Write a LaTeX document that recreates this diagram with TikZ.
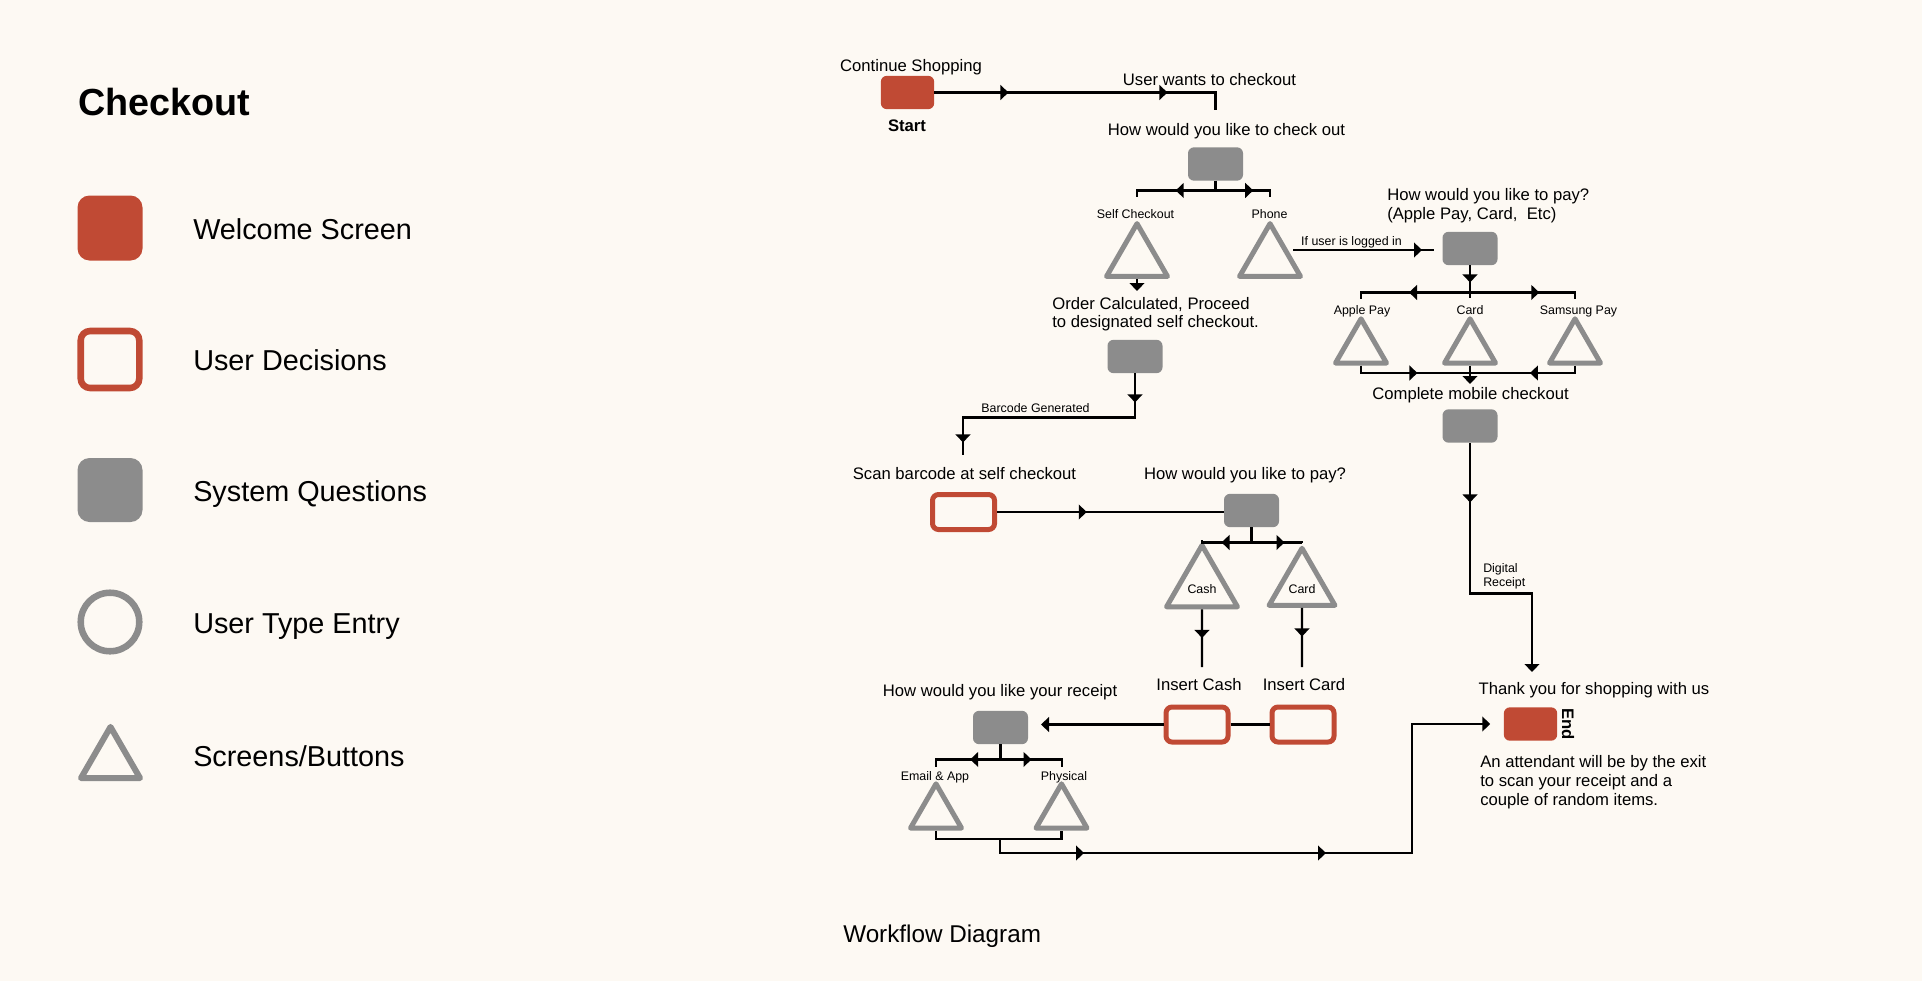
\documentclass[tikz,border=0pt]{standalone}
\usepackage{fontspec}
\setmainfont{Liberation Sans}
\usepackage{xcolor}
\usepackage{tikz}
\usetikzlibrary{arrows.meta,shapes.geometric,decorations.markings}

\definecolor{bgc}{HTML}{FDF9F3}
\definecolor{redc}{HTML}{C04A34}
\definecolor{greyc}{HTML}{8C8C8C}

\begin{document}
\begin{tikzpicture}[
  x=0.75pt, y=-0.75pt,
  every node/.style={inner sep=0pt, font=\fontsize{12.5}{13.9}\selectfont},
  welcome/.style={fill=redc, rounded corners=4.5pt, minimum width=40pt, minimum height=25pt},
  sysq/.style={fill=greyc, rounded corners=4.5pt, minimum width=41.25pt, minimum height=25pt},
  decision/.style={draw=redc, line width=3.75pt, rounded corners=4.5pt,
    minimum width=46.5pt, minimum height=26.25pt},
  screen/.style={regular polygon, regular polygon sides=3, draw=greyc,
    line width=3.75pt, line join=round, minimum size=52.8pt},
  smallscreen/.style={screen, minimum size=44.2pt},
  lbl/.style={anchor=base},
  small/.style={font=\fontsize{9.3}{10.5}\selectfont},
  legend/.style={anchor=base west, font=\fontsize{21.6}{26}\selectfont},
  flow/.style={line width=1.6pt},
  tip/.style={-{Triangle[length=6pt,width=11pt]}},
  arrowat/.style={postaction={decorate, decoration={markings,
    mark=at position #1 with {\arrow{Triangle[length=6pt,width=11pt]}}}}},
]

\fill[bgc] (0,0) rectangle (1922,981);

% legend
\node[anchor=base west, font=\bfseries\fontsize{28.3}{34}\selectfont] (title) at (78,115.5) {Checkout};
\node[welcome, minimum width=48.75pt, minimum height=48.75pt, rounded corners=9pt] (legwelcome) at (110,228) {};
\node[decision, line width=4.9pt, minimum width=43.9pt, minimum height=42.75pt, rounded corners=7pt] (legdecision) at (110,359.5) {};
\node[sysq, minimum width=48.75pt, minimum height=48pt, rounded corners=9pt] (legsysq) at (110,490) {};
\node[circle, draw=greyc, line width=4.9pt, minimum size=43.9pt] (legentry) at (110,622) {};
\node[screen, line width=4.5pt, minimum size=51.1pt] (legscreen) at (110.5,761) {};

\node[legend] (legwelcometxt) at (193,239) {Welcome Screen};
\node[legend] (legdecisiontxt) at (193,370) {User Decisions};
\node[legend] (legsysqtxt) at (193,501) {System Questions};
\node[legend] (legentrytxt) at (193,633) {User Type Entry};
\node[legend] (legscreentxt) at (193,766) {Screens/Buttons};

% workflow
\node[welcome] (start) at (907.5,92.5) {};
\node[lbl] (contlbl) at (911,72) {Continue Shopping};
\node[lbl, font=\bfseries\fontsize{12.5}{14}\selectfont] (startlbl) at (907,131) {Start};
\node[lbl] (wantlbl) at (1209.5,85) {User wants to checkout};

\node[lbl] (q1lbl) at (1226.5,135) {How would you like to check out};
\node[sysq] (q1) at (1215.5,164) {};

\node[lbl, small] (selfcklbl) at (1135.5,218) {Self Checkout};
\node[lbl, small] (phonelbl) at (1269.5,218) {Phone};
\node[screen] (selfck) at (1137,258.8) {};
\node[screen] (phone) at (1270,258.8) {};
\node[lbl, small] (loggedlbl) at (1351.5,245.5) {If user is logged in};

\node[anchor=north west, align=left] (orderlbl) at (1052,297) {Order Calculated, Proceed\\to designated self checkout.};
\node[sysq] (order) at (1135,356.5) {};
\node[lbl, small] (barcodelbl) at (1035.5,412) {Barcode Generated};

\node[anchor=north west, align=left] (pay1lbl) at (1387,188.5) {How would you like to pay?\\(Apple Pay, Card,~ Etc)};
\node[sysq] (pay1) at (1470,248.5) {};
\node[lbl, small] (applelbl) at (1362,314) {Apple Pay};
\node[lbl, small] (cardpaylbl) at (1470,314) {Card};
\node[lbl, small] (samsunglbl) at (1578.5,314) {Samsung Pay};
\node[smallscreen] (apple) at (1361,348.3) {};
\node[smallscreen] (cardpay) at (1470,348.3) {};
\node[smallscreen] (samsung) at (1575,348.3) {};
\node[lbl] (completelbl) at (1470.5,399.5) {Complete mobile checkout};
\node[sysq] (complete) at (1470,426) {};
\node[anchor=north west, align=left, small] (digitallbl) at (1483,563.5) {Digital\\Receipt};

\node[lbl] (scanlbl) at (964.5,479.5) {Scan barcode at self checkout};
\node[decision] (scan) at (963.5,512) {};
\node[lbl] (pay2lbl) at (1245,479.5) {How would you like to pay?};
\node[sysq] (pay2) at (1251.5,510.5) {};
\node[screen, small, text height=11.5pt, text depth=0pt] (cash) at (1202,586.3) {Cash};
\node[screen, small, text height=11.5pt, text depth=0pt] (cardbtn) at (1302,586.3) {Card};
\node[lbl] (icashlbl) at (1199,690.5) {Insert Cash};
\node[lbl] (icardlbl) at (1304,690.5) {Insert Card};
\node[decision] (icash) at (1197,724.5) {};
\node[decision] (icard) at (1303,724.5) {};

\node[lbl] (receiptlbl) at (1000,696) {How would you like your receipt};
\node[sysq] (receipt) at (1000.5,727.5) {};
\node[lbl, small] (emaillbl) at (935,780.5) {Email \& App};
\node[lbl, small] (physicallbl) at (1064,780.5) {Physical};
\node[smallscreen] (email) at (936,813.3) {};
\node[smallscreen] (physical) at (1061.5,813.3) {};

\node[lbl] (thanklbl) at (1594,694.5) {Thank you for shopping with us};
\node[welcome] (endbox) at (1530.5,724) {};
\node[font=\bfseries\fontsize{12.5}{14}\selectfont, rotate=-90] (endlbl) at (1568,724) {End};
\node[anchor=north west, align=left, font=\fontsize{12.5}{14.25}\selectfont] (attendlbl) at (1480,755.5)
  {An attendant will be by the exit\\to scan your receipt and a\\couple of random items.};

\node[anchor=base west, font=\fontsize{18.2}{22}\selectfont] (caption) at (843,942.7) {Workflow Diagram};

% connectors
\coordinate (topend) at (1215.5,110);
\draw[flow, arrowat=55.5pt, arrowat=174.75pt] (start.east) -- (start.east -| topend) -- (topend);

\coordinate (selfdrop) at (1137,197);
\coordinate (phonedrop) at (1270,197);
\draw[flow, arrowat=37pt] (q1.south) -- ++(0,9.5) -| (selfdrop);
\draw[flow, arrowat=35.4pt] (q1.south) -- ++(0,9.5) -| (phonedrop);

\coordinate (orderin) at (1137,291);
\draw[flow, tip] (selfck.south) -- (orderin);

\coordinate (scanin) at (963,455);
\draw[flow, arrowat=21.75pt, arrowat=180.75pt] (order.south) -- ++(0,44) -| (scanin);

\coordinate (loggedend) at (1434,250);
\draw[flow, arrowat=-9pt] (phone.east |- loggedend) -- (loggedend);

\coordinate (paymid) at (1470,298);
\coordinate (applein) at (1361,299);
\coordinate (samsungin) at (1575,299);
\draw[flow, arrowat=12.75pt] (pay1.south) -- (paymid);
\draw[flow, arrowat=66pt] (pay1.south) -- ++(0,27) -| (applein);
\draw[flow, arrowat=72.2pt] (pay1.south) -- ++(0,27) -| (samsungin);

\coordinate (mobilejoin) at (1470,373);
\coordinate (completein) at (1470,384);
\draw[flow, arrowat=47.9pt] (apple.south) |- (mobilejoin);
\draw[flow, arrowat=39.4pt] (samsung.south) |- (mobilejoin);
\draw[flow, tip] (cardpay.south) -- (completein);

\coordinate (digitalend) at (1532,672);
\draw[flow, tip, arrowat=44.6pt] (complete.south) -- ++(0,150.5) -| (digitalend);

\draw[flow, arrowat=67.3pt] (scan.east) -- (scan.east -| pay2.west);

\draw[flow, arrowat=33.75pt] (pay2.south) -- ++(0,15) -| (cash.north);
\draw[flow, arrowat=36pt] (pay2.south) -- ++(0,15) -| (cardbtn.north);

\coordinate (cashout) at (1202,667);
\coordinate (cardout) at (1302,667);
\draw[flow, arrowat=21.5pt] (cash.south) -- (cashout);
\draw[flow, arrowat=21.5pt] (cardbtn.south) -- (cardout);

\coordinate (receiptin) at (1041,725);
\draw[flow, tip] (icash.west) -- (icash.west -| receiptin);
\draw[flow] (icash) -- (icard);

\coordinate (emaildrop) at (936,767);
\coordinate (physicaldrop) at (1062,767);
\draw[flow, arrowat=34pt] (receipt.south) -- ++(0,15) -| (emaildrop);
\draw[flow, arrowat=34.5pt] (receipt.south) -- ++(0,15) -| (physicaldrop);

\coordinate (receiptjoin) at (1000,839);
\coordinate (exitturn) at (1412,853);
\draw[flow] (email.south) -- ++(0,8.5) -| (physical.south);
\draw[flow, tip, arrowat=73.5pt, arrowat=255pt] (receiptjoin) |- (exitturn) |- ([xshift=-10pt]endbox.west);

\end{tikzpicture}
\end{document}
